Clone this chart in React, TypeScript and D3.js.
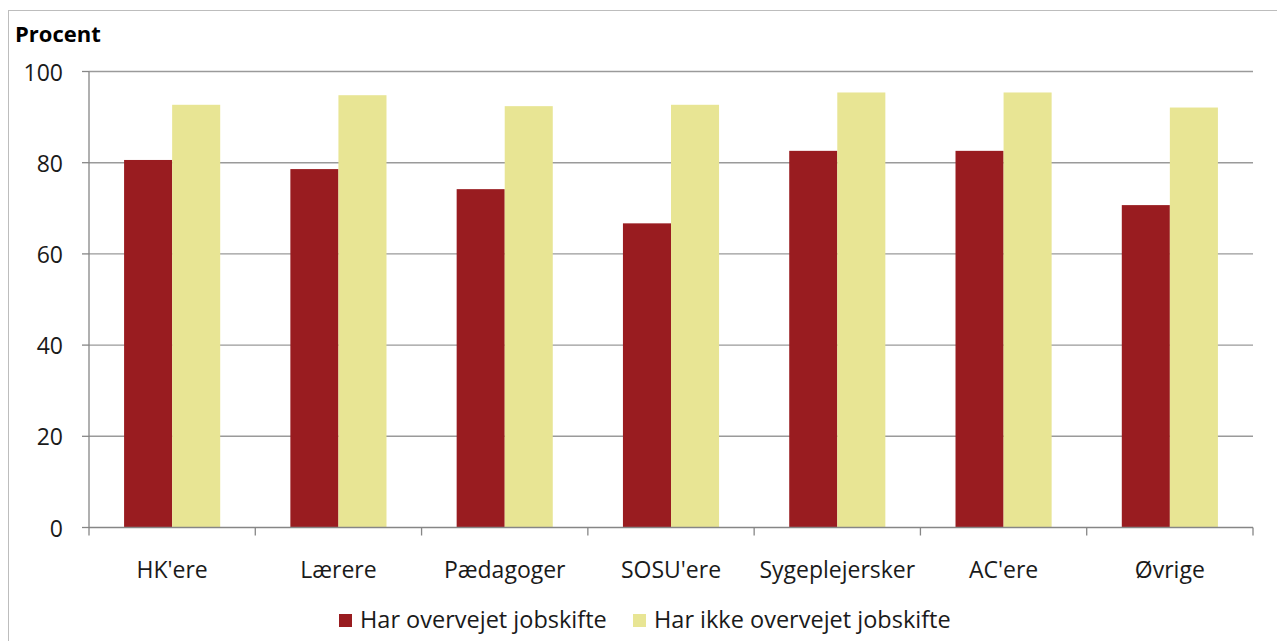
import React from 'react'
import * as d3 from 'd3'

const categories = ["HK'ere", 'Lærere', 'Pædagoger', "SOSU'ere", 'Sygeplejersker', "AC'ere", 'Øvrige']
const seriesNames = ['Har overvejet jobskifte', 'Har ikke overvejet jobskifte']
const harOvervejet = [80.6, 78.6, 74.2, 66.7, 82.6, 82.6, 70.7]
const harIkkeOvervejet = [92.7, 94.8, 92.4, 92.7, 95.4, 95.4, 92.1]
const yTicks = [0, 20, 40, 60, 80, 100]

const colors = ['#991c20', '#e8e594']
const font = '"Open Sans", "Noto Sans", sans-serif'

const App = () => {
	// page size
	const width = 1277,
		height = 641

	const plot = { left: 89, right: 1253, top: 71.5, bottom: 527.5 }

	const y = d3.scaleLinear().domain([0, 100]).range([plot.bottom, plot.top])

	const x = d3.scaleBand().domain(categories).range([plot.left, plot.right]).padding(0)

	const xInner = d3
		.scaleBand()
		.domain(seriesNames)
		.range([0, x.bandwidth()])
		.paddingInner(0)
		.paddingOuter(0.73)

	const values = [harOvervejet, harIkkeOvervejet]

	return (
		<svg
			width={width}
			height={height}
			style={{ position: 'absolute', left: 0, top: 0, display: 'block' }}
			fontFamily={font}
		>
			<rect x={0} y={0} width={width} height={height} fill='#fff' />
			{/* chart frame */}
			<line x1={8} x2={width} y1={10.5} y2={10.5} stroke='#bdbdbd' />
			<line x1={8.5} x2={8.5} y1={10} y2={height} stroke='#bdbdbd' />

			<text x={15} y={42} fontSize={22} fontWeight='bold' fill='#000'>
				Procent
			</text>

			{/* gridlines */}
			{yTicks
				.filter((t) => t > 0)
				.map((t) => (
					<line
						key={'g' + t}
						x1={plot.left}
						x2={plot.right}
						y1={y(t)}
						y2={y(t)}
						stroke='#9a9a9a'
						strokeWidth={1.4}
					/>
				))}

			{/* bars */}
			{categories.map((c, i) => (
				<g key={c} transform={`translate(${x(c)},0)`}>
					{seriesNames.map((s, j) => (
						<rect
							key={s}
							x={xInner(s)}
							y={y(values[j][i])}
							width={xInner.bandwidth()}
							height={y(0) - y(values[j][i])}
							fill={colors[j]}
						/>
					))}
				</g>
			))}

			{/* y axis */}
			<line x1={plot.left} x2={plot.left} y1={plot.top} y2={plot.bottom} stroke='#868686' strokeWidth={1.3} />
			{yTicks.map((t) => (
				<g key={'t' + t}>
					<line x1={plot.left - 7} x2={plot.left} y1={y(t)} y2={y(t)} stroke='#868686' strokeWidth={1.3} />
					<text x={63} y={y(t) + 1} dy='0.35em' textAnchor='end' fontSize={23} fill='#1a1a1a'>
						{t}
					</text>
				</g>
			))}

			{/* x axis */}
			<line x1={plot.left} x2={plot.right} y1={plot.bottom} y2={plot.bottom} stroke='#868686' strokeWidth={1.3} />
			{[...categories.map((c) => x(c)!), plot.right].map((px, i) => (
				<line key={'xt' + i} x1={px} x2={px} y1={plot.bottom} y2={plot.bottom + 8} stroke='#868686' strokeWidth={1.3} />
			))}
			{categories.map((c) => (
				<text
					key={'l' + c}
					x={x(c)! + x.bandwidth() / 2}
					y={578}
					textAnchor='middle'
					fontSize={23}
					fill='#1a1a1a'
				>
					{c}
				</text>
			))}

			{/* legend */}
			{seriesNames.map((s, j) => {
				const lx = [339, 633][j]
				return (
					<g key={'lg' + s}>
						<rect x={lx} y={614} width={13} height={13} fill={colors[j]} />
						<text x={lx + 21} y={627.5} fontSize={23.5} fill='#1a1a1a'>
							{s}
						</text>
					</g>
				)
			})}
		</svg>
	)
}

export default App
